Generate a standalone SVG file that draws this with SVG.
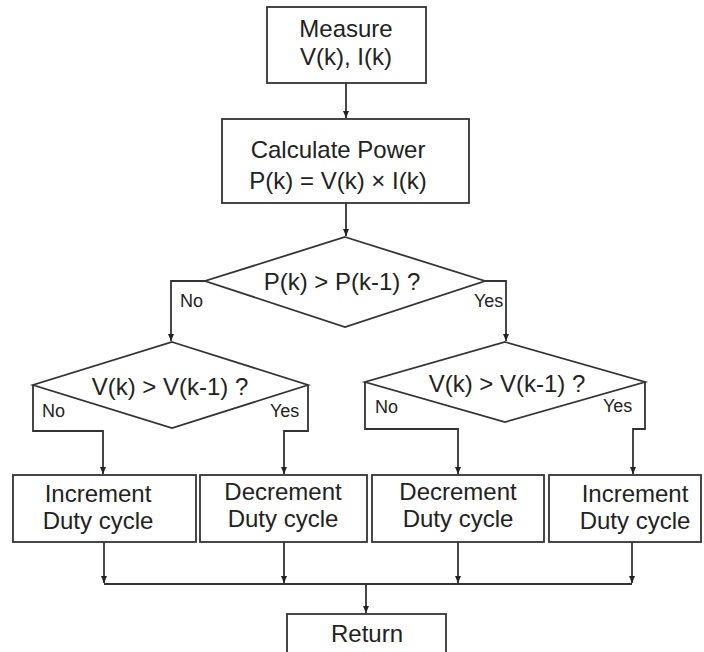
<svg xmlns="http://www.w3.org/2000/svg" width="704" height="652" viewBox="0 0 704 652">
<defs>
<marker id="arr" markerWidth="8" markerHeight="8" refX="7" refY="4" orient="auto" markerUnits="userSpaceOnUse">
<path d="M0,1 L7,4 L0,7 Z" fill="#222"/>
</marker>
<style>
.box{fill:#fff;stroke:#333;stroke-width:1.8}
.t{font-family:"Liberation Sans",Arial,sans-serif;font-size:24px;fill:#222;text-anchor:middle}
.l{font-family:"Liberation Sans",Arial,sans-serif;font-size:18px;fill:#222}
.c{fill:none;stroke:#333;stroke-width:1.8}
</style>
</defs>
<rect width="704" height="652" fill="#fff"/>
<g id="connectors">
<path class="c" d="M346,83 V118" marker-end="url(#arr)"/>
<path class="c" d="M346,203 V236" marker-end="url(#arr)"/>
<path class="c" d="M205,281 H171 V341" marker-end="url(#arr)"/>
<path class="c" d="M485,281 H506 V341" marker-end="url(#arr)"/>
<path class="c" d="M33,385 V431 H103 V474" marker-end="url(#arr)"/>
<path class="c" d="M308,385 V431 H284 V474" marker-end="url(#arr)"/>
<path class="c" d="M365,382 V429 H458 V474" marker-end="url(#arr)"/>
<path class="c" d="M645,382 V429 H633 V474" marker-end="url(#arr)"/>
<path class="c" d="M104,542 V583" marker-end="url(#arr)"/>
<path class="c" d="M284,542 V583" marker-end="url(#arr)"/>
<path class="c" d="M458,542 V583" marker-end="url(#arr)"/>
<path class="c" d="M632,542 V583" marker-end="url(#arr)"/>
<path class="c" d="M104,584 H632"/>
<path class="c" d="M366,584 V613" marker-end="url(#arr)"/>
</g>
<g id="measure">
<rect class="box" x="267" y="7" width="159" height="76"/>
<text class="t" x="346" y="37">Measure</text>
<text class="t" x="346" y="65">V(k), I(k)</text>
</g>
<g id="calc">
<rect class="box" x="222" y="119" width="247" height="84"/>
<text class="t" x="338" y="158">Calculate Power</text>
<text class="t" x="338" y="189">P(k) = V(k) × I(k)</text>
</g>
<g id="dec1">
<polygon class="box" points="345,237 485,281 345,327 205,281"/>
<text class="t" x="342" y="290">P(k) &gt; P(k-1) ?</text>
<text class="l" x="180" y="307">No</text>
<text class="l" x="474" y="307">Yes</text>
</g>
<g id="dec2">
<polygon class="box" points="172,342 308,385 172,428 33,385"/>
<text class="t" x="170" y="395">V(k) &gt; V(k-1) ?</text>
<text class="l" x="42" y="417">No</text>
<text class="l" x="270" y="417">Yes</text>
</g>
<g id="dec3">
<polygon class="box" points="505,342 645,382 505,422 365,382"/>
<text class="t" x="507" y="392">V(k) &gt; V(k-1) ?</text>
<text class="l" x="375" y="413">No</text>
<text class="l" x="603" y="412">Yes</text>
</g>
<g id="inc1">
<rect class="box" x="13" y="475" width="183" height="67"/>
<text class="t" x="98" y="502">Increment</text>
<text class="t" x="98" y="529">Duty cycle</text>
</g>
<g id="decr1">
<rect class="box" x="200" y="475" width="167" height="67"/>
<text class="t" x="283" y="500">Decrement</text>
<text class="t" x="283" y="527">Duty cycle</text>
</g>
<g id="decr2">
<rect class="box" x="372" y="475" width="172" height="67"/>
<text class="t" x="458" y="500">Decrement</text>
<text class="t" x="458" y="527">Duty cycle</text>
</g>
<g id="inc2">
<rect class="box" x="549" y="475" width="152" height="67"/>
<text class="t" x="635" y="502">Increment</text>
<text class="t" x="635" y="529">Duty cycle</text>
</g>
<g id="return">
<rect class="box" x="287" y="614" width="159" height="50"/>
<text class="t" x="367" y="642">Return</text>
</g>
</svg>
